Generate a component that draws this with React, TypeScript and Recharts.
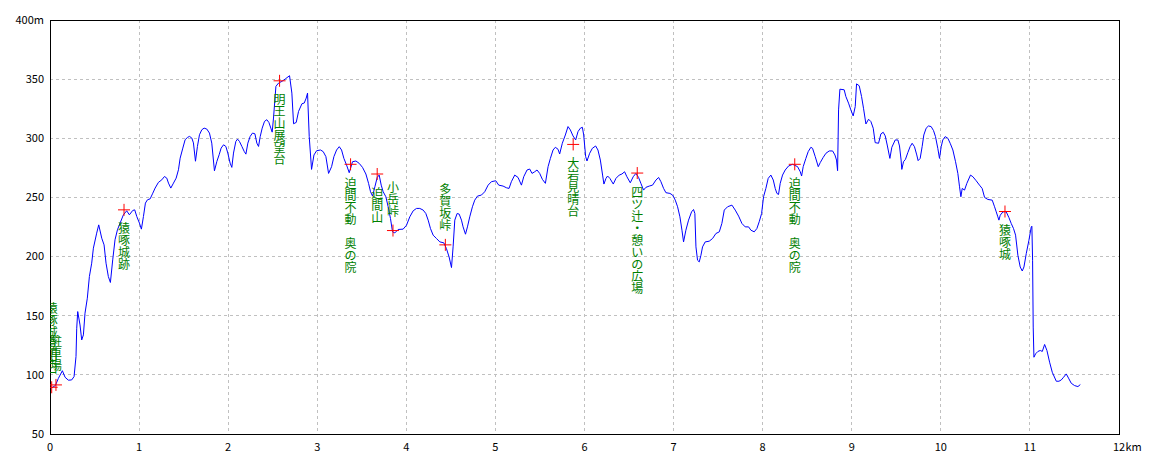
import React from 'react';
import {
  ComposedChart, Line, Scatter, XAxis, YAxis, CartesianGrid, ReferenceArea,
} from 'recharts';

// distance along the trail (km) and elevation (m)
const distanceKm = [
  0.02, 0.06, 0.094, 0.139, 0.169, 0.206, 0.243, 0.27, 0.292, 0.3, 0.311, 0.337, 0.356, 0.375, 0.393,
  0.419, 0.442, 0.468, 0.487, 0.524, 0.547, 0.581, 0.607, 0.629, 0.655, 0.678, 0.704, 0.73, 0.757,
  0.787, 0.824, 0.861, 0.891, 0.929, 0.951, 0.974, 1.004, 1.026, 1.049, 1.071, 1.094, 1.124, 1.154,
  1.18, 1.217, 1.255, 1.285, 1.311, 1.33, 1.356, 1.386, 1.416, 1.442, 1.461, 1.491, 1.517, 1.543,
  1.566, 1.592, 1.61, 1.633, 1.655, 1.678, 1.704, 1.73, 1.76, 1.79, 1.816, 1.846, 1.873, 1.899,
  1.921, 1.948, 1.974, 1.996, 2.022, 2.041, 2.06, 2.086, 2.105, 2.127, 2.154, 2.18, 2.199, 2.221,
  2.247, 2.273, 2.3, 2.322, 2.341, 2.36, 2.382, 2.408, 2.434, 2.457, 2.479, 2.494, 2.509, 2.536,
  2.566, 2.603, 2.64, 2.689, 2.715, 2.734, 2.764, 2.79, 2.828, 2.854, 2.876, 2.891,
  2.91, 2.936, 2.963, 2.993, 3.037, 3.067, 3.097, 3.127, 3.161, 3.187, 3.217, 3.247, 3.273, 3.299,
  3.329, 3.359, 3.396, 3.434, 3.471, 3.508, 3.546, 3.576, 3.598, 3.621, 3.647, 3.673, 3.695, 3.718,
  3.74, 3.77, 3.796, 3.822, 3.845, 3.871, 3.908, 3.964, 4.002, 4.039, 4.077, 4.114, 4.151, 4.189,
  4.219, 4.245, 4.271, 4.301, 4.338, 4.376, 4.421, 4.45, 4.48, 4.507, 4.525, 4.544, 4.57, 4.593,
  4.619, 4.637, 4.664, 4.686, 4.712, 4.742, 4.768, 4.798, 4.843, 4.88, 4.918, 4.955, 5.004, 5.037,
  5.086, 5.123, 5.153, 5.179, 5.217, 5.254, 5.292, 5.318, 5.355, 5.385, 5.411, 5.441, 5.467, 5.497,
  5.527, 5.561, 5.591, 5.617, 5.647, 5.673, 5.703, 5.721, 5.751, 5.785, 5.815, 5.841, 5.871, 5.901,
  5.927, 5.953, 5.976, 5.991, 6.013, 6.028, 6.058, 6.088, 6.125, 6.151, 6.178,
  6.203, 6.218, 6.241, 6.259, 6.285, 6.323, 6.353, 6.39, 6.42, 6.45, 6.476, 6.514, 6.547, 6.577,
  6.607, 6.633, 6.663, 6.689, 6.727, 6.764, 6.802, 6.832, 6.858, 6.888, 6.914, 6.959, 6.989, 7.019,
  7.045, 7.071, 7.094, 7.112, 7.138, 7.168, 7.202, 7.224, 7.239, 7.251, 7.269, 7.288, 7.307, 7.325,
  7.355, 7.4, 7.438, 7.475, 7.513, 7.542, 7.569, 7.606, 7.655, 7.692, 7.73, 7.767, 7.804, 7.842,
  7.868, 7.905, 7.935, 7.961, 7.988, 8.01, 8.036, 8.062, 8.092, 8.119, 8.141, 8.16, 8.178, 8.197,
  8.223, 8.253, 8.291, 8.336, 8.392, 8.422, 8.437, 8.455, 8.485, 8.511, 8.541, 8.56, 8.59, 8.624,
  8.646, 8.68, 8.71, 8.747, 8.785, 8.811, 8.829, 8.841, 8.852, 8.867, 8.915, 8.934, 8.964, 8.99,
  9.016, 9.039, 9.054, 9.084, 9.11, 9.132, 9.159, 9.189, 9.215, 9.241, 9.263, 9.301, 9.327, 9.353,
  9.376, 9.398, 9.428, 9.45, 9.488, 9.518,
  9.536, 9.554, 9.562, 9.581, 9.603, 9.629, 9.655, 9.678, 9.704, 9.73, 9.745, 9.768, 9.79, 9.809,
  9.835, 9.861, 9.891, 9.918, 9.94, 9.966, 9.985, 10.004, 10.022, 10.049, 10.079, 10.105, 10.135,
  10.165, 10.191, 10.21, 10.225, 10.24, 10.266, 10.292, 10.333, 10.36, 10.397, 10.434, 10.464,
  10.491, 10.528, 10.577, 10.603, 10.622, 10.64, 10.652, 10.667, 10.697, 10.734, 10.764, 10.79,
  10.816, 10.839, 10.865, 10.891, 10.914, 10.933, 10.959, 10.989, 11.015, 11.022, 11.03, 11.037,
  11.045, 11.064, 11.09, 11.116, 11.139, 11.165, 11.191, 11.221, 11.251, 11.296, 11.326, 11.352,
  11.378, 11.408, 11.438, 11.464, 11.502, 11.539, 11.566,
];

const elevationM = [
  89, 91, 97, 103.5, 98, 95.5, 95.7, 98.5, 115.5, 139.4, 153.5, 142.2, 129.5, 133.8, 152.1,
  164.8, 183.1, 194.4, 207.1, 219.8, 226.8, 215.5, 209.9, 194.4, 183.1, 178.1, 197.2, 214.2, 222.6,
  228.3, 235.3, 238.7, 235.3, 239, 239.5, 233.9, 228.3, 223.2, 233.9, 245.2, 248, 248.8, 253.6,
  257.9, 262.7, 264.9, 267.7, 266.3, 262.1, 257.9, 262.1, 266.3, 273.4, 283.2, 291.7, 298.8, 300.7,
  301.6, 300.2, 296.1, 280.6, 293.1, 303, 307.2, 308.6, 307.8, 304.4, 295.9, 272.5, 280.4, 286.1,
  291.7, 294.5, 293.1, 287.5, 279, 275.4, 287.5, 297.3, 299.3, 297.3, 293.1, 288.9, 286.6, 295.9,
  301.6, 304.4, 303.8, 295.9, 293.1, 301.6, 308.6, 314.3, 315.7, 313.4, 308.6, 305.2, 317.1, 343.9,
  346.7, 348.1, 350.1, 352.9, 338.2, 312.3, 313.4, 322.7, 329.2, 329.8, 334, 338.2,
  301.4, 273.7, 285.9, 289.5, 290.1, 288.7, 284.5, 270.3, 276, 284.5, 290.1, 292.9, 290.1, 283,
  277.4, 270.9, 280.2, 280.8, 278.8, 275.4, 269.8, 261.9, 254.8, 251.1, 259, 266.9, 268.9, 260.4,
  254.8, 250.6, 242.1, 232.2, 220.9, 220, 222.9, 223.2, 226.5, 233.6, 238.7, 240.7, 240.7, 239.3,
  236.4, 230.8, 223.7, 218.1, 215.3, 212.4, 211.6, 206.8, 199.7, 190.7, 208.2, 230.8, 236.4, 235.9,
  230.8, 225.1, 218.9, 225.1, 233.6, 242.1, 247.7, 251.1, 252, 254.8, 260.4, 263.3, 264.1, 260.4,
  259.6, 258.2, 257.6, 263.3, 268.9, 266.9, 260.4, 267.5, 273.2, 274, 270.3, 271.7, 273.2, 270.3,
  265.3, 261.9, 276, 283, 290.1, 292.4, 290.7, 286.7, 295.8, 302.8, 309.9, 307.1, 302, 298.6,
  305.6, 308.5, 309.3, 302.8, 284.5, 280.8, 287.3, 291.5, 293.5, 290.1, 281.6,
  268.9, 261.3, 266.1, 268.1, 266.1, 261.3, 266.1, 268.9, 269.8, 271.7, 267.5, 262.4, 267.5, 270.3,
  266.9, 261.9, 256.2, 258.5, 259.6, 260.4, 264.7, 266.9, 263.3, 257.6, 254, 253.4, 252, 247.7,
  242.1, 233.6, 222.3, 212.4, 222.3, 230.8, 237.8, 239.8, 236.4, 208.2, 196.9, 195.5, 201.1, 208.2,
  212.4, 213, 215.3, 219.5, 220.9, 228, 239.3, 242.1, 243.5, 239.3, 234.2, 228, 225.1, 225.1,
  222.3, 220.9, 223.7, 229.4, 236.4, 250.6, 257.6, 266.1, 268.9, 264.7, 257.6, 253.4, 252.5, 261.9,
  268.9, 273.2, 276.6, 278, 276, 271.7, 268.1, 276, 283, 288.7, 292.4, 291.5, 284.5, 276,
  279.4, 283.9, 287.3, 289.3, 289.3, 285.9, 281.6, 272.6, 324, 341.5, 341, 335.3, 329.7, 324,
  318.9, 326.8, 346, 344.4, 335.3, 325.4, 312.1, 316.1, 314.1, 308.5, 296.3, 295.8, 303.7, 305.1,
  302, 294.3, 283, 292.4, 298.6, 298.6,
  293.5, 281.6, 273.7, 280.2, 282.2, 287.8, 292.9, 295.8, 292.9, 285.9, 281.1, 283, 292.9, 302.8,
  308.5, 310.4, 309.9, 306.5, 301.4, 291.5, 283, 292.9, 298.6, 301.4, 300, 295.8, 290.1,
  280.2, 270.3, 259, 250.6, 257.6, 256.2, 261.9, 268.9, 267.5, 264.1, 260.4, 257.6,
  250, 248.3, 247.7, 242.1, 237.8, 233.6, 230.8, 235, 237.8, 237.8, 233, 228,
  223.7, 218.1, 201.1, 191.2, 187.8, 191.2, 202.5, 213.8, 225.1, 225.7, 196.9, 140.4,
  114.9, 117.8, 119.8, 120.6, 119.8, 125.7, 120.6, 110.7, 102.2, 94.6, 94.6, 95.7,
  98, 100.8, 96.6, 92.9, 90.9, 90.1, 91.8,
];

// points of interest along the route
const landmarkNames = [
  '猿啄城登山口', '駐車場', '猿啄城跡', '明王山展望台', '迫間不動　奥の院', '迫間山', '小岳峠',
  '多賀坂峠', '大岩見晴台', '四ツ辻・憩いの広場', '迫間不動　奥の院', '猿啄城',
];
const landmarkKm = [0.019, 0.067, 0.831, 2.577, 3.374, 3.673, 3.85, 4.438, 5.873, 6.592, 8.36, 10.72];
const landmarkElev = [89.5, 91.5, 239.5, 348.6, 278, 269.8, 222, 209.9, 294.8, 270.6, 278, 238.1];

const xTicks = [0, 1, 2, 3, 4, 5, 6, 7, 8, 9, 10, 11, 12];
const yTicks = [50, 100, 150, 200, 250, 300, 350, 400];

// labels that the original printed above their marker instead of below
const labelAbove = new Set([0, 1, 6, 7]);

const profile = distanceKm.map((km, i) => ({ km, elev: elevationM[i] }));
const marks = landmarkKm.map((km, i) => ({ km, elev: landmarkElev[i], name: landmarkNames[i], idx: i }));

const tickFont = { fontSize: 11, fill: '#000', fontFamily: '"Noto Sans CJK JP", sans-serif' };

const Landmark = (props: any) => {
  const { cx, cy, payload } = props;
  if (cx == null || cy == null) return null;
  const chars = Array.from(payload.name as string);
  const above = labelAbove.has(payload.idx);
  const start = above ? cy - 20 - (chars.length - 1) * 12 : cy + 18;
  return (
    <g>
      {chars.map((c, i) => (
        <text
          key={i}
          x={cx}
          y={start + i * 12}
          textAnchor="middle"
          dominantBaseline="central"
          fontSize={12}
          fill="#008000"
          fontFamily='"Noto Sans CJK JP", sans-serif'
        >
          {c}
        </text>
      ))}
      <line x1={cx - 6} x2={cx + 6} y1={cy} y2={cy} stroke="#ff0000" strokeWidth={1} />
      <line x1={cx} x2={cx} y1={cy - 6} y2={cy + 6} stroke="#ff0000" strokeWidth={1} />
    </g>
  );
};

const KmTick = (props: any) => {
  const { x, y, payload } = props;
  if (payload.value === 12) {
    return (
      <g>
        <text x={x} y={y} dy="0.71em" textAnchor="middle" {...tickFont}>12</text>
        <text x={x + 6.5} y={y} dy="0.71em" textAnchor="start" {...tickFont}>km</text>
      </g>
    );
  }
  return (
    <text x={x} y={y} dy="0.71em" textAnchor="middle" {...tickFont}>{payload.value}</text>
  );
};

export default function App() {
  return (
    <div style={{ width: 1152, height: 456, background: '#fff' }}>
      <ComposedChart width={1152} height={456} margin={{ top: 12, right: 41, bottom: 0, left: 0 }}>
        <CartesianGrid stroke="#c0c0c0" strokeDasharray="3 3" shapeRendering="crispEdges" />
        <XAxis
          type="number"
          dataKey="km"
          domain={[0, 12]}
          ticks={xTicks}
          interval={0}
          height={30}
          axisLine={false}
          tickLine={false}
          tickSize={0}
          tickMargin={9}
          tick={<KmTick />}
          allowDataOverflow
        />
        <YAxis
          type="number"
          domain={[50, 400]}
          ticks={yTicks}
          interval={0}
          width={42}
          axisLine={false}
          tickLine={false}
          tickSize={0}
          tickMargin={6}
          tick={tickFont}
          tickFormatter={(v: number) => (v === 400 ? '400m' : String(v))}
          allowDataOverflow
        />
        <ReferenceArea x1={0} x2={12} y1={50} y2={400} fill="none" stroke="#000" strokeWidth={1} fillOpacity={0} ifOverflow="visible" shapeRendering="crispEdges" />
        <Line
          data={profile}
          dataKey="elev"
          type="linear"
          stroke="#0000ff"
          strokeWidth={1}
          dot={false}
          activeDot={false}
          isAnimationActive={false}
        />
        <Scatter data={marks} dataKey="elev" shape={<Landmark />} isAnimationActive={false} />
      </ComposedChart>
    </div>
  );
}
